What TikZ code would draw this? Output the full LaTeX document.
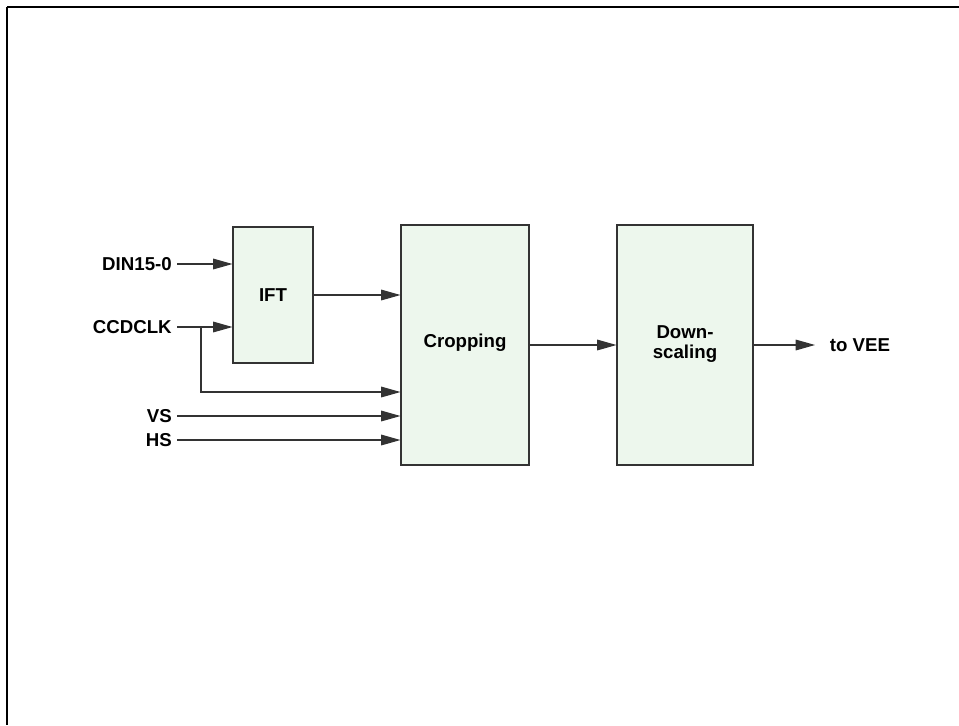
\documentclass[tikz,border=0pt]{standalone}
\usepackage{fontspec}
\setmainfont{Liberation Sans}
\usetikzlibrary{arrows.meta,positioning}
\definecolor{boxgreen}{RGB}{237,247,237}
\definecolor{wiregray}{RGB}{51,51,51}
\tikzset{
  blockbox/.style={draw=wiregray,fill=boxgreen,line width=0.8pt,align=center,inner sep=0pt,
    font=\bfseries\fontsize{14}{15}\selectfont},
  siglabel/.style={anchor=east,inner sep=3.75pt,font=\bfseries\fontsize{14}{15}\selectfont},
  sigline/.style={draw=wiregray,line width=0.8pt,-{Triangle[length=14.5pt,width=8pt]}}
}
\begin{document}
\begin{tikzpicture}[x=0.75pt,y=-0.75pt]
\useasboundingbox (0,0) rectangle (959,725);
% frame
\draw[line width=1.5pt] (7,7) -- (959,7);
\draw[line width=0.9pt] (7,7) -- (7,725);
% blocks
\node[blockbox,minimum width=60pt,minimum height=102pt] (ift) at (273,295) {IFT};
\node[blockbox,minimum width=96pt,minimum height=180pt,text depth=7pt] (crop) at (465,345) {Cropping};
\node[blockbox,minimum width=102pt,minimum height=180pt] (down) at (685,345) {Down-\\scaling\rule[-4pt]{0pt}{4pt}};
% signals in
\node[siglabel] (din) at (177,264) {DIN15-0};
\node[siglabel] (clk) at (177,327) {CCDCLK};
\node[siglabel] (vs) at (177,416) {VS};
\node[siglabel] (hs) at (177,440) {HS};
\node[siglabel,anchor=west,inner sep=11pt] (vee) at (815,345) {to VEE};
\coordinate (clkbr) at (201,392);
% wires
\draw[sigline] (din.east) -- (din.east -| ift.west);
\draw[sigline] (clk.east) -- (clk.east -| ift.west);
\draw[sigline] (clk.east -| clkbr) |- (clkbr -| crop.west);
\draw[sigline] (ift.east) -- (ift.east -| crop.west);
\draw[sigline] (vs.east) -- (vs.east -| crop.west);
\draw[sigline] (hs.east) -- (hs.east -| crop.west);
\draw[sigline] (crop.east) -- (down.west);
\draw[sigline] (down.east) -- (vee.west);
\end{tikzpicture}
\end{document}
